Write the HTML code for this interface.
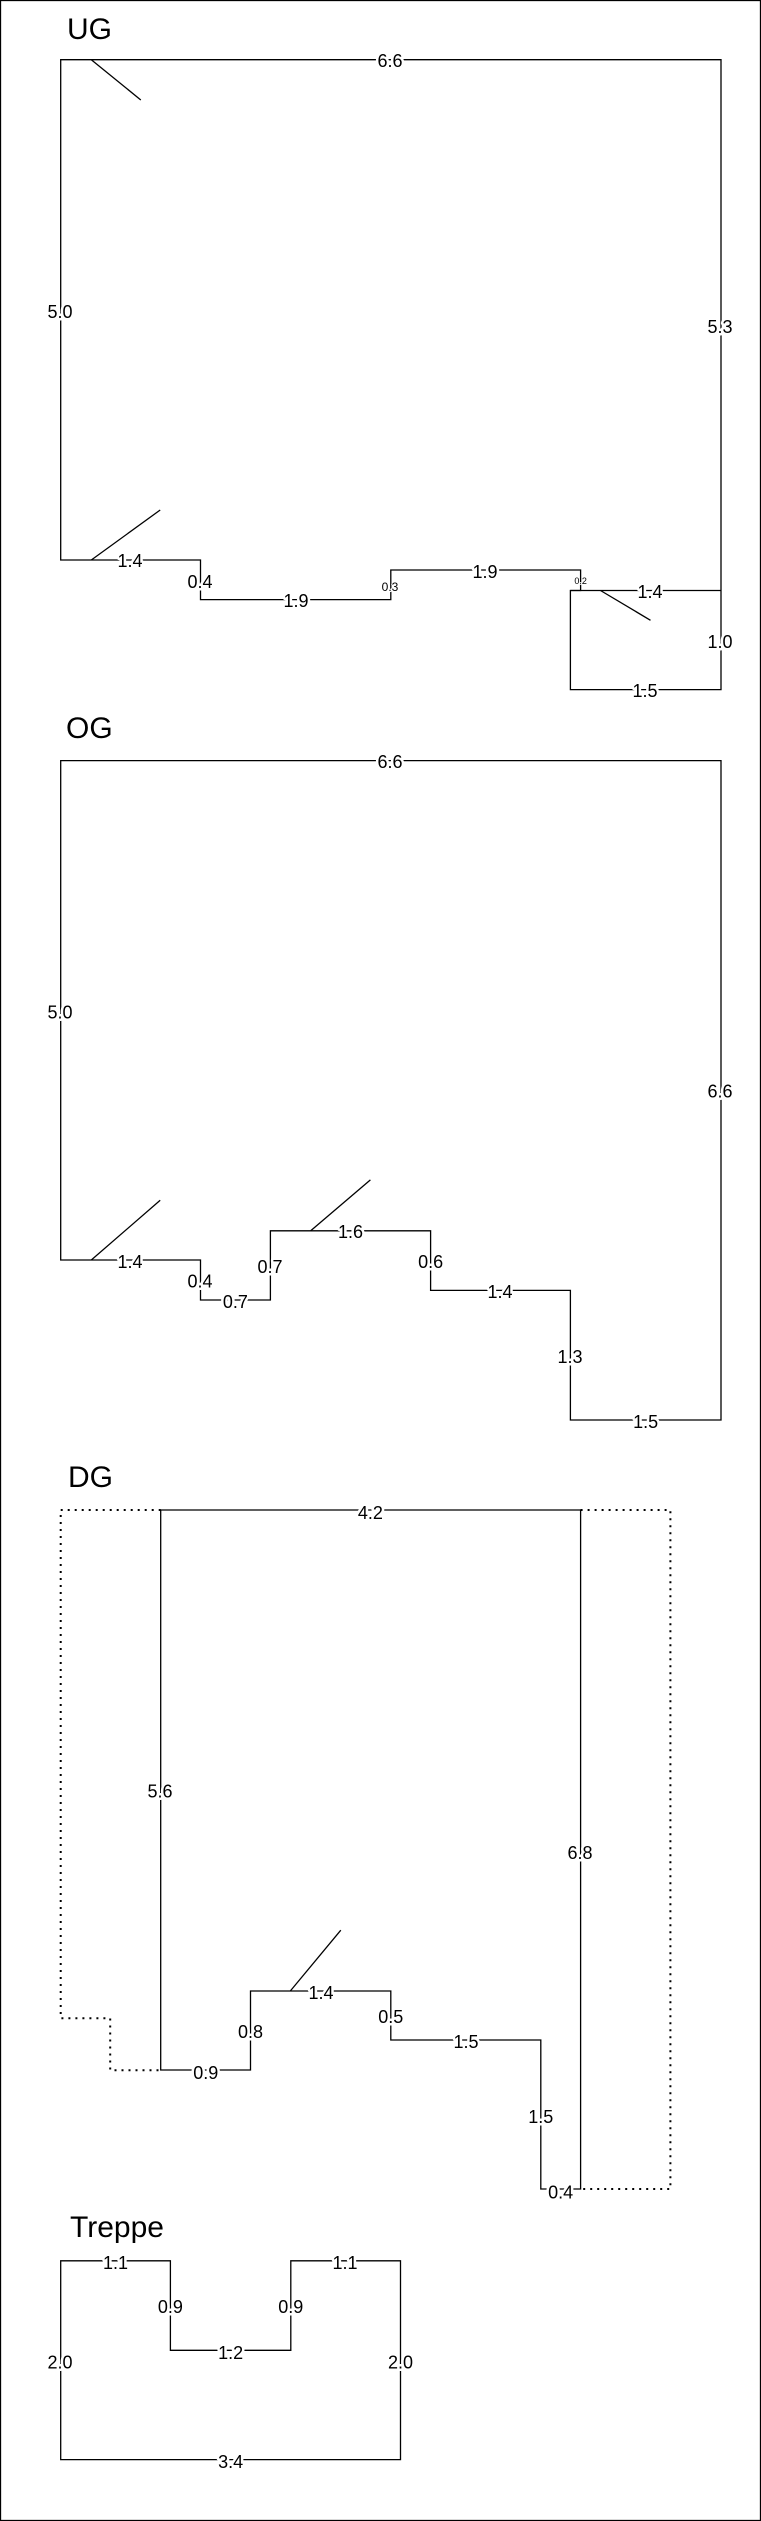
<!DOCTYPE html>
<html><head><meta charset="utf-8"><style>
html,body{margin:0;padding:0;background:#fff;}
svg{display:block;}
text{font-family:"Liberation Sans",sans-serif;fill:#000;}
.l{font-size:18px;text-anchor:middle;dominant-baseline:central;stroke:#fff;stroke-width:5px;paint-order:stroke;stroke-linejoin:round;}
.t{font-size:30px;}
path,line{fill:none;stroke:#000;stroke-width:1.3;}
.d{stroke-dasharray:2 5;stroke-width:2;}
</style></head><body>
<svg width="761" height="2521" viewBox="0 0 761 2521">
<rect x="0.5" y="0.5" width="760" height="2520" fill="none" stroke="#000" stroke-width="1.3"/>

<!-- UG -->
<text class="t" x="67" y="39">UG</text>
<path d="M60.7,59.7 H721 V689.6 H570.4 V590.5 H580.6 V570 H390.8 V599.6 H200.5 V560 H60.7 Z"/>
<line x1="570.4" y1="590.5" x2="721" y2="590.5"/>
<line x1="91.3" y1="59.7" x2="140.8" y2="100"/>
<line x1="91.3" y1="560" x2="160.2" y2="510"/>
<line x1="600.5" y1="590.5" x2="650.5" y2="620.3"/>
<text class="l" x="390" y="61">6.6</text>
<text class="l" x="60" y="312">5.0</text>
<text class="l" x="720" y="327">5.3</text>
<text class="l" x="130" y="561">1.4</text>
<text class="l" x="200" y="582">0.4</text>
<text class="l" x="296" y="601">1.9</text>
<text class="l" x="390" y="587" style="font-size:12px;stroke-width:2px">0.3</text>
<text class="l" x="485" y="572">1.9</text>
<text class="l" x="580.6" y="581" style="font-size:9px;stroke-width:1.5px">0.2</text>
<text class="l" x="650" y="592">1.4</text>
<text class="l" x="720" y="642">1.0</text>
<text class="l" x="645" y="691">1.5</text>

<!-- OG -->
<text class="t" x="66" y="738">OG</text>
<path d="M60.7,760.6 H721 V1420 H570.4 V1290.4 H430.6 V1230.8 H270.4 V1300 H200.5 V1260 H60.7 Z"/>
<line x1="91.3" y1="1260" x2="160.2" y2="1200.3"/>
<line x1="310.7" y1="1230.8" x2="370.4" y2="1179.9"/>
<text class="l" x="390" y="762">6.6</text>
<text class="l" x="60" y="1012.7">5.0</text>
<text class="l" x="720" y="1091.7">6.6</text>
<text class="l" x="130" y="1262">1.4</text>
<text class="l" x="200" y="1281.7">0.4</text>
<text class="l" x="235.4" y="1302">0.7</text>
<text class="l" x="270" y="1267">0.7</text>
<text class="l" x="350.5" y="1232">1.6</text>
<text class="l" x="430.6" y="1262">0.6</text>
<text class="l" x="500" y="1292">1.4</text>
<text class="l" x="570" y="1357">1.3</text>
<text class="l" x="645.6" y="1422">1.5</text>

<!-- DG -->
<text class="t" x="68" y="1487">DG</text>
<path class="d" d="M160.7,1510 H60.7 V2018.3 H110.2 V2070.2 H160.7"/>
<path class="d" d="M580.6,1510 H670.4 V2189 H580.6"/>
<path d="M160.7,1510 H580.6 V2189 H540.8 V2040 H390.8 V1991 H250.5 V2070 H160.7 Z"/>
<line x1="290.3" y1="1991" x2="340.8" y2="1930.2"/>
<text class="l" x="370.4" y="1513">4.2</text>
<text class="l" x="160" y="1791.5">5.6</text>
<text class="l" x="580" y="1853">6.8</text>
<text class="l" x="321" y="1993">1.4</text>
<text class="l" x="390.8" y="2017">0.5</text>
<text class="l" x="250.5" y="2032">0.8</text>
<text class="l" x="205.8" y="2073">0.9</text>
<text class="l" x="466" y="2042">1.5</text>
<text class="l" x="540.8" y="2117">1.5</text>
<text class="l" x="560.7" y="2192.5">0.4</text>

<!-- Treppe -->
<text class="t" x="70" y="2237">Treppe</text>
<path d="M60.7,2260.8 H170.4 V2350.3 H290.8 V2260.8 H400.5 V2459.6 H60.7 Z"/>
<text class="l" x="115.5" y="2263">1.1</text>
<text class="l" x="170.4" y="2307">0.9</text>
<text class="l" x="230.6" y="2353">1.2</text>
<text class="l" x="290.8" y="2307">0.9</text>
<text class="l" x="345" y="2263">1.1</text>
<text class="l" x="60" y="2362.5">2.0</text>
<text class="l" x="400.5" y="2362.5">2.0</text>
<text class="l" x="230.6" y="2462">3.4</text>
</svg>
</body></html>
